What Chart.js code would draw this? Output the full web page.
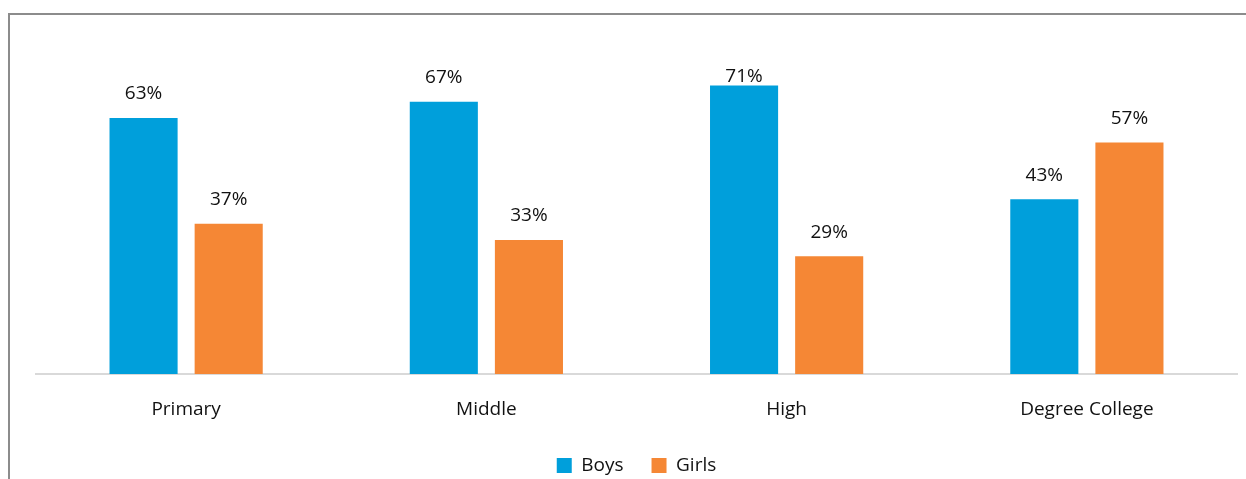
<!DOCTYPE html>
<html>
<head>
<meta charset="utf-8">
<script src="https://cdn.jsdelivr.net/npm/chart.js@4.4.1/dist/chart.umd.min.js"></script>
<style>
  html, body { margin: 0; padding: 0; background: #ffffff; }
  #wrap { position: relative; width: 1246px; height: 479px; }
</style>
</head>
<body>
<div id="wrap"><canvas id="chart" width="1246" height="479"></canvas></div>
<script>
// School level enrolment share by gender
const categories = ['Primary', 'Middle', 'High', 'Degree College'];
const boys = [63, 67, 71, 43];
const girls = [37, 33, 29, 57];
const seriesNames = ['Boys', 'Girls'];
const colors = ['#009fdb', '#f58735'];

const FONT = '"Open Sans", "Noto Sans", sans-serif';

// Thin frame along the top and left edges of the canvas
const framePlugin = {
  id: 'frame',
  beforeDraw(chart) {
    const ctx = chart.ctx;
    ctx.save();
    ctx.strokeStyle = '#8c8c8c';
    ctx.lineWidth = 2;
    ctx.beginPath();
    ctx.moveTo(9, chart.height);
    ctx.lineTo(9, 14);
    ctx.lineTo(chart.width, 14);
    ctx.stroke();
    ctx.restore();
  }
};

// Percentage labels above each bar, kept inside the top of the plot
const valueLabels = {
  id: 'valueLabels',
  afterDatasetsDraw(chart) {
    const ctx = chart.ctx;
    ctx.save();
    ctx.font = '19px ' + FONT;
    ctx.fillStyle = '#111111';
    ctx.textAlign = 'center';
    ctx.textBaseline = 'middle';
    chart.data.datasets.forEach((ds, i) => {
      chart.getDatasetMeta(i).data.forEach((bar, j) => {
        const y = Math.max(bar.y - 24, 77);
        ctx.fillText(ds.data[j] + '%', bar.x, y);
      });
    });
    ctx.restore();
  }
};

new Chart(document.getElementById('chart'), {
  type: 'bar',
  data: {
    labels: categories,
    datasets: [
      { label: seriesNames[0], data: boys, backgroundColor: colors[0] },
      { label: seriesNames[1], data: girls, backgroundColor: colors[1] }
    ]
  },
  options: {
    responsive: false,
    animation: false,
    devicePixelRatio: 1,
    layout: { padding: { top: 49, left: 36, right: 9, bottom: -6 } },
    datasets: {
      bar: { categoryPercentage: 0.567, barPercentage: 0.8 }
    },
    scales: {
      x: {
        grid: { display: false, drawTicks: false },
        border: { display: true, color: '#d9d9d9', width: 2 },
        ticks: { color: '#111111', font: { family: FONT, size: 19 }, padding: 24 },
        afterFit(scale) { scale.height = 54; }
      },
      y: {
        display: false,
        min: 0,
        max: 80
      }
    },
    plugins: {
      legend: {
        position: 'bottom',
        labels: {
          boxWidth: 15,
          boxHeight: 15,
          padding: 28,
          color: '#111111',
          font: { family: FONT, size: 19 }
        }
      },
      tooltip: { enabled: false }
    }
  },
  plugins: [framePlugin, valueLabels]
});
</script>
</body>
</html>
